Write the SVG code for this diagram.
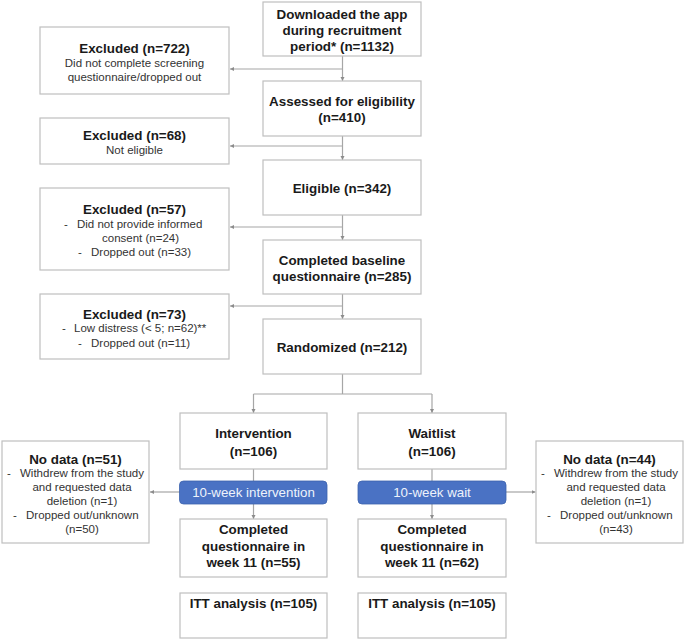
<svg xmlns="http://www.w3.org/2000/svg" width="685" height="639" viewBox="0 0 685 639">
<defs>
<marker id="ah" markerUnits="userSpaceOnUse" markerWidth="6" markerHeight="6" refX="4" refY="2" orient="auto">
<path d="M0,0 L4,2 L0,4 z" fill="#8c8c8c"/>
</marker>
</defs>
<style>
.box{fill:#fff;stroke:#bfbfbf;stroke-width:1.2}
.pill{fill:#4a72c4;stroke:#3e63ad;stroke-width:0.8}
.b{font-family:"Liberation Sans",Arial,sans-serif;font-weight:bold;font-size:13.4px;fill:#1a1a1a;text-anchor:middle}
.n{font-family:"Liberation Sans",Arial,sans-serif;font-size:11.5px;fill:#333}
.c{text-anchor:middle}
.p{font-family:"Liberation Sans",Arial,sans-serif;font-size:13.3px;fill:#eef2fb;text-anchor:middle}
.ln{fill:none;stroke:#a6a6a6;stroke-width:1.2}
.ar{fill:none;stroke:#a6a6a6;stroke-width:1.2;marker-end:url(#ah)}
</style>
<rect width="685" height="639" fill="#fff"/>
<g id="connectors">
<line class="ar" x1="342.5" y1="56" x2="342.5" y2="81"/>
<line class="ar" x1="342.5" y1="69" x2="230" y2="69"/>
<line class="ar" x1="342.5" y1="136" x2="342.5" y2="160"/>
<line class="ar" x1="342.5" y1="146" x2="230" y2="146"/>
<line class="ar" x1="342.5" y1="215" x2="342.5" y2="240"/>
<line class="ar" x1="342.5" y1="227" x2="230" y2="227"/>
<line class="ar" x1="342.5" y1="294" x2="342.5" y2="319"/>
<line class="ar" x1="342.5" y1="306" x2="230" y2="306"/>
<line class="ln" x1="342.5" y1="374" x2="342.5" y2="394"/>
<line class="ln" x1="253.5" y1="394" x2="432" y2="394"/>
<line class="ar" x1="253.5" y1="394" x2="253.5" y2="413"/>
<line class="ar" x1="432" y1="394" x2="432" y2="413"/>
<line class="ln" x1="253.5" y1="469" x2="253.5" y2="481"/>
<line class="ar" x1="253.5" y1="504" x2="253.5" y2="519"/>
<line class="ar" x1="180" y1="492" x2="150" y2="492"/>
<line class="ln" x1="432" y1="469" x2="432" y2="481"/>
<line class="ar" x1="432" y1="504" x2="432" y2="519"/>
<line class="ar" x1="506" y1="492" x2="535.5" y2="492"/>
</g>
<g id="downloaded">
<rect class="box" x="263" y="2" width="158" height="54"/>
<text class="b" x="342" y="19">Downloaded the app</text>
<text class="b" x="342" y="34.5">during recruitment</text>
<text class="b" x="342" y="50.5">period* (n=1132)</text>
</g>
<g id="excluded722">
<rect class="box" x="40" y="27" width="189" height="67"/>
<text class="b" x="134.5" y="52.5">Excluded (n=722)</text>
<text class="n c" x="134.5" y="66.5">Did not complete screening</text>
<text class="n c" x="134.5" y="80.5">questionnaire/dropped out</text>
</g>
<g id="assessed">
<rect class="box" x="263" y="81" width="158" height="55"/>
<text class="b" x="342" y="106">Assessed for eligibility</text>
<text class="b" x="342" y="122">(n=410)</text>
</g>
<g id="excluded68">
<rect class="box" x="40" y="118" width="189" height="46"/>
<text class="b" x="134.5" y="140">Excluded (n=68)</text>
<text class="n c" x="134.5" y="154">Not eligible</text>
</g>
<g id="eligible">
<rect class="box" x="263" y="160" width="158" height="55"/>
<text class="b" x="342" y="193">Eligible (n=342)</text>
</g>
<g id="excluded57">
<rect class="box" x="40" y="188" width="189" height="82"/>
<text class="b" x="134.5" y="214">Excluded (n=57)</text>
<text class="n" x="64" y="227.5">-</text>
<text class="n" x="77" y="227.5">Did not provide informed</text>
<text class="n" x="102" y="242">consent (n=24)</text>
<text class="n" x="78" y="256">-</text>
<text class="n" x="91" y="256">Dropped out (n=33)</text>
</g>
<g id="baseline">
<rect class="box" x="263" y="240" width="158" height="54"/>
<text class="b" x="342" y="265">Completed baseline</text>
<text class="b" x="342" y="281">questionnaire (n=285)</text>
</g>
<g id="excluded73">
<rect class="box" x="40" y="294" width="189" height="65"/>
<text class="b" x="134.5" y="319">Excluded (n=73)</text>
<text class="n" x="62" y="332">-</text>
<text class="n" x="74" y="332">Low distress (&lt; 5; n=62)**</text>
<text class="n" x="78" y="346.5">-</text>
<text class="n" x="91" y="346.5">Dropped out (n=11)</text>
</g>
<g id="randomized">
<rect class="box" x="263" y="319" width="158" height="55"/>
<text class="b" x="342" y="352">Randomized (n=212)</text>
</g>
<g id="intervention">
<rect class="box" x="180" y="413" width="147" height="56"/>
<text class="b" x="253.5" y="438">Intervention</text>
<text class="b" x="253.5" y="456">(n=106)</text>
</g>
<g id="pill-intervention">
<rect class="pill" x="179.5" y="481" width="147.5" height="23" rx="4"/>
<text class="p" x="253.5" y="497">10-week intervention</text>
</g>
<g id="nodata51">
<rect class="box" x="2" y="441" width="147" height="102"/>
<text class="b" x="75.5" y="463.5">No data (n=51)</text>
<text class="n" x="7" y="477">-</text>
<text class="n" x="20" y="477">Withdrew from the study</text>
<text class="n c" x="82" y="491">and requested data</text>
<text class="n c" x="82" y="505">deletion (n=1)</text>
<text class="n" x="13" y="519">-</text>
<text class="n" x="26" y="519">Dropped out/unknown</text>
<text class="n c" x="82" y="533">(n=50)</text>
</g>
<g id="completed55">
<rect class="box" x="180" y="519" width="147" height="58"/>
<text class="b" x="253.5" y="534">Completed</text>
<text class="b" x="253.5" y="550.5">questionnaire in</text>
<text class="b" x="253.5" y="567">week 11 (n=55)</text>
</g>
<g id="itt-intervention">
<rect class="box" x="180" y="593" width="147" height="45"/>
<text class="b" x="253.5" y="608">ITT analysis (n=105)</text>
</g>
<g id="waitlist">
<rect class="box" x="358" y="413" width="148" height="56"/>
<text class="b" x="432" y="438">Waitlist</text>
<text class="b" x="432" y="456">(n=106)</text>
</g>
<g id="pill-waitlist">
<rect class="pill" x="358" y="481" width="148" height="23" rx="4"/>
<text class="p" x="432" y="497">10-week wait</text>
</g>
<g id="nodata44">
<rect class="box" x="536" y="441" width="147" height="102"/>
<text class="b" x="609.5" y="463.5">No data (n=44)</text>
<text class="n" x="541" y="477">-</text>
<text class="n" x="554" y="477">Withdrew from the study</text>
<text class="n c" x="616" y="491">and requested data</text>
<text class="n c" x="616" y="505">deletion (n=1)</text>
<text class="n" x="547" y="519">-</text>
<text class="n" x="560" y="519">Dropped out/unknown</text>
<text class="n c" x="616" y="533">(n=43)</text>
</g>
<g id="completed62">
<rect class="box" x="358" y="519" width="148" height="58"/>
<text class="b" x="432" y="534">Completed</text>
<text class="b" x="432" y="550.5">questionnaire in</text>
<text class="b" x="432" y="567">week 11 (n=62)</text>
</g>
<g id="itt-waitlist">
<rect class="box" x="358" y="593" width="148" height="45"/>
<text class="b" x="432" y="608">ITT analysis (n=105)</text>
</g>
</svg>
